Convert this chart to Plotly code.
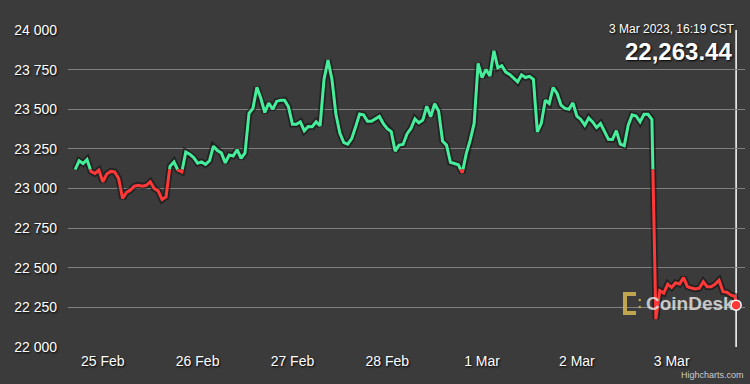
import pandas as pd
import plotly.graph_objects as go

# ---------------- data ----------------
start_time = "2023-02-24 17:00"
last_time = "2023-03-03 16:19"
prices = [
    23120, 23175, 23158, 23183, 23108, 23095, 23116, 23042, 23091, 23108, 23105, 23063,
    22937, 22975, 22990, 23015, 23021, 23015, 23020, 23042, 23000, 22985, 22930, 22947,
    23140, 23168, 23116, 23105, 23230, 23217, 23195, 23160, 23168, 23152, 23175, 23267,
    23240, 23225, 23162, 23211, 23205, 23245, 23190, 23225, 23474, 23506, 23640, 23570,
    23480, 23540, 23500, 23550, 23558, 23558, 23516, 23405, 23405, 23421, 23365, 23392,
    23390, 23421, 23396, 23690, 23811, 23690, 23470, 23350, 23290, 23280, 23315, 23390,
    23470, 23465, 23425, 23425, 23440, 23455, 23410, 23378, 23360, 23236, 23274, 23278,
    23345, 23379, 23440, 23415, 23432, 23520, 23453, 23535, 23490, 23300, 23274, 23165,
    23158, 23150, 23099, 23220, 23305, 23411, 23790, 23700, 23752, 23710, 23870, 23762,
    23775, 23735, 23720, 23700, 23674, 23718, 23701, 23708, 23690, 23358, 23411, 23558,
    23537, 23638, 23600, 23526, 23506, 23500, 23541, 23457, 23436, 23400, 23445, 23420,
    23385, 23410, 23360, 23310, 23309, 23365, 23280, 23270, 23400, 23465, 23458, 23421,
    23469, 23469, 23436, 22175, 22355, 22340, 22396, 22375, 22405, 22396, 22438, 22380,
    22372, 22365, 22370, 22411, 22379, 22380, 22396, 22421, 22348, 22345, 22326, 22320,
    22263.44,
]
x_tick_dates = ["2023-02-25", "2023-02-26", "2023-02-27", "2023-02-28",
                "2023-03-01", "2023-03-02", "2023-03-03"]
x_tick_labels = ["25 Feb", "26 Feb", "27 Feb", "28 Feb", "1 Mar", "2 Mar", "3 Mar"]
y_ticks = [22000, 22250, 22500, 22750, 23000, 23250, 23500, 23750, 24000]
y_tick_labels = ["22 000", "22 250", "22 500", "22 750", "23 000",
                 "23 250", "23 500", "23 750", "24 000"]
x_range = ["2023-02-24 15:11", "2023-03-03 18:34"]
y_range = [21999, 24001]
header_date = "3 Mar 2023, 16:19 CST"
header_price = "22,263.44"

times = list(pd.date_range(start_time, periods=len(prices) - 1, freq="h")) + [pd.Timestamp(last_time)]
threshold = prices[0]

GREEN = "#46EE9C"
RED = "#FF3838"
BG = "#3b3b3b"

# ---------- split the line into runs above / below the threshold ----------
runs = {True: [], False: []}
cur_up = prices[0] >= threshold
cur = [(times[0], prices[0])]
for i in range(len(prices) - 1):
    t0, t1 = times[i], times[i + 1]
    p0, p1 = prices[i], prices[i + 1]
    up1 = p1 >= threshold
    if up1 == cur_up:
        cur.append((t1, p1))
    else:
        f = (threshold - p0) / (p1 - p0)
        tc = t0 + (t1 - t0) * f
        cur.append((tc, threshold))
        runs[cur_up].append(cur)
        cur_up = up1
        cur = [(tc, threshold), (t1, p1)]
runs[cur_up].append(cur)


def flatten(rl):
    xs, ys = [], []
    for r in rl:
        for t, p in r:
            xs.append(t)
            ys.append(p)
        xs.append(None)
        ys.append(None)
    return xs, ys


gx, gy = flatten(runs[True])
rx, ry = flatten(runs[False])

fig = go.Figure()
# dark halo under the line
fig.add_trace(go.Scatter(x=times, y=prices, mode="lines",
                         line=dict(color="rgba(15,15,15,0.55)", width=6.5),
                         hoverinfo="skip", showlegend=False))
fig.add_trace(go.Scatter(x=gx, y=gy, mode="lines", line=dict(color=GREEN, width=3),
                         showlegend=False, connectgaps=False))
fig.add_trace(go.Scatter(x=rx, y=ry, mode="lines", line=dict(color=RED, width=3),
                         showlegend=False, connectgaps=False))
fig.add_trace(go.Scatter(x=[times[-1]], y=[prices[-1]], mode="markers",
                         marker=dict(color=RED, size=10, line=dict(color="white", width=1.5)),
                         showlegend=False))

# plot-area geometry helpers for decorations (pixels -> paper)
L, R, T, B = 68, 5, 30, 37
W, H = 750, 384
pw, ph = W - L - R, H - T - B


def px(xp):
    return (xp - L) / pw


def py(yp):
    return (H - B - yp) / ph


# crosshair at last point
fig.add_shape(type="line", xref="x", yref="paper", x0=times[-1], x1=times[-1],
              y0=0, y1=1, line=dict(color="white", width=1.5), layer="below")

# CoinDesk logo icon (decorative)
gold = "rgba(200,170,80,0.95)"
path = f"M {px(636)},{py(294)} L {px(625)},{py(294)} L {px(625)},{py(313)} L {px(636)},{py(313)}"
fig.add_shape(type="path", xref="paper", yref="paper", path=path,
              line=dict(color=gold, width=4))
for yy in (300, 307):
    fig.add_shape(type="circle", xref="paper", yref="paper",
                  x0=px(638.5), x1=px(641), y0=py(yy + 1.2), y1=py(yy - 1.2),
                  fillcolor=gold, line=dict(width=0))

shadow = "1px 1px 2px rgba(0,0,0,0.95)"
fig.add_annotation(text="CoinDesk", xref="paper", yref="paper", x=px(644), y=py(303),
                   xanchor="left", yanchor="middle", showarrow=False,
                   font=dict(family="Liberation Sans, Arial", size=19, weight="bold",
                             color="rgba(225,225,225,0.85)"))
fig.add_annotation(text=header_date, xref="paper", yref="paper", x=px(736), y=py(29),
                   xanchor="right", yanchor="middle", showarrow=False,
                   font=dict(family="Liberation Sans, Arial", size=12, color="white", shadow=shadow))
fig.add_annotation(text="<b>" + header_price + "</b>", xref="paper", yref="paper",
                   x=px(734), y=py(51), xanchor="right", yanchor="middle", showarrow=False,
                   font=dict(family="Liberation Sans, Arial", size=24, color="white", shadow=shadow))
fig.add_annotation(text="Highcharts.com", xref="paper", yref="paper", x=px(746), y=py(375),
                   xanchor="right", yanchor="middle", showarrow=False,
                   font=dict(family="Liberation Sans, Arial", size=9, color="#cccccc"))

fig.update_layout(
    width=W, height=H,
    margin=dict(l=L, r=R, t=T, b=B, pad=0),
    paper_bgcolor=BG, plot_bgcolor=BG,
    showlegend=False,
    xaxis=dict(type="date", range=x_range, tickvals=x_tick_dates, ticktext=x_tick_labels,
               showgrid=False, zeroline=False, showline=False, ticks="",
               ticklabelstandoff=4,
               tickfont=dict(family="Liberation Sans, Arial", size=14, color="white", shadow=shadow)),
    yaxis=dict(range=y_range, tickvals=y_ticks, ticktext=y_tick_labels,
               showgrid=True, gridcolor="#808080", gridwidth=1, zeroline=False,
               showline=False, ticks="", ticklabelstandoff=10,
               tickfont=dict(family="Liberation Sans, Arial", size=14, color="white", shadow=shadow)),
)

fig.write_html("out.html", config={"displayModeBar": False},
               post_script="document.body.style.margin='0';document.body.style.background='" + BG + "';")
